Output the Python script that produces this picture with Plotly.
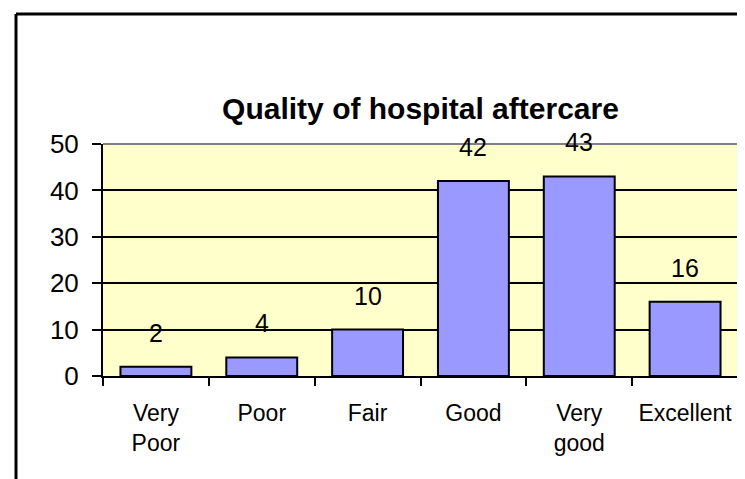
import plotly.graph_objects as go

categories = ["Very<br>Poor", "Poor", "Fair", "Good", "Very<br>good", "Excellent"]
values = [2, 4, 10, 42, 43, 16]
y_ticks = [0, 10, 20, 30, 40, 50]

W, H = 745, 479
ML, MR, MT, MB = 95, 15, 136, 111
PW, PH = W - ML - MR, H - MT - MB

def px_x(x):
    return (x - ML) / PW

def px_y(y):
    return (H - MB - y) / PH

FONT = "Liberation Sans, Arial, sans-serif"

fig = go.Figure()
fig.add_trace(go.Bar(
    x=categories, y=values,
    marker=dict(color="#9999FF", line=dict(color="black", width=2)),
    width=0.67,
))

for c, v in zip(categories, values):
    fig.add_annotation(x=c, y=v, text=str(v), showarrow=False,
                       yanchor="middle", yshift=34,
                       font=dict(family=FONT, size=25, color="black"))

shapes = [
    # plot-area top and right borders (gray)
    dict(type="line", xref="paper", yref="paper", x0=0, x1=1, y0=1, y1=1,
         line=dict(color="#808080", width=2)),
    dict(type="line", xref="paper", yref="paper", x0=1, x1=1, y0=0, y1=1,
         line=dict(color="#808080", width=2)),
    # outer chart frame
    dict(type="line", xref="paper", yref="paper", x0=px_x(8), x1=px_x(750),
         y0=px_y(6), y1=px_y(6), line=dict(color="black", width=3)),
    dict(type="line", xref="paper", yref="paper", x0=px_x(8), x1=px_x(8),
         y0=px_y(6), y1=px_y(490), line=dict(color="black", width=3)),
]

fig.update_layout(
    width=W, height=H,
    margin=dict(l=ML, r=MR, t=MT, b=MB, autoexpand=False),
    paper_bgcolor="white",
    plot_bgcolor="#FFFFCC",
    showlegend=False,
    font=dict(family=FONT, size=24, color="black"),
    title=dict(text="<b>Quality of hospital aftercare</b>", x=0.5, xref="paper",
               y=1 - 100 / H, yref="container", yanchor="middle", xanchor="center",
               font=dict(family=FONT, size=30, color="black")),
    shapes=shapes,
    bargap=0.33,
)
fig.update_xaxes(
    type="category", tickson="boundaries", ticks="outside", ticklen=8,
    tickwidth=2, tickcolor="black", showline=True, linecolor="black",
    linewidth=2, showgrid=False, tickfont=dict(size=23), ticklabelstandoff=15,
    tickangle=0, automargin=False,
)
fig.update_yaxes(
    range=[0, 50], tickvals=y_ticks, ticks="outside", ticklen=9, tickwidth=2,
    tickcolor="black", showline=True, linecolor="black", linewidth=2,
    showgrid=True, gridcolor="black", gridwidth=2, zeroline=False,
    tickfont=dict(size=26), ticklabelstandoff=8, automargin=False,
)

fig.write_html("out.html")
